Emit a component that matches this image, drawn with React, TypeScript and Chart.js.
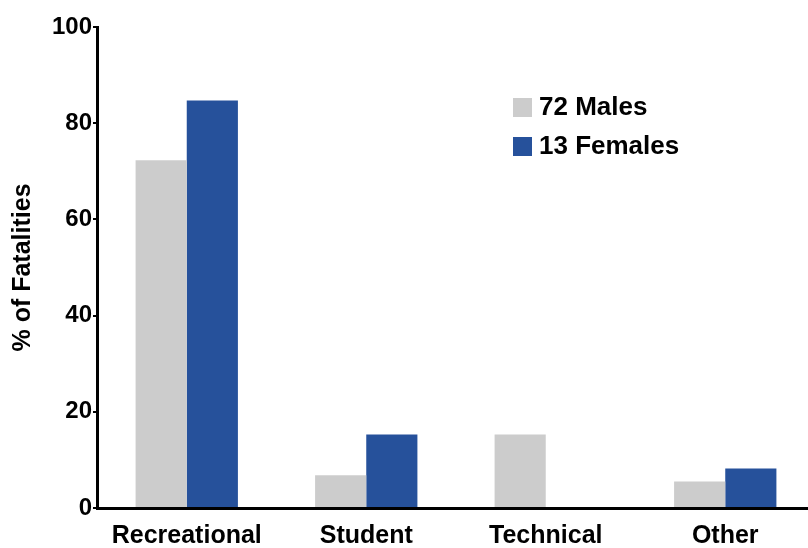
import React, { useEffect, useRef } from "react";
import { Chart, registerables } from "chart.js";

Chart.register(...registerables);

const categories = ["Recreational", "Student", "Technical", "Other"];
const maleValues = [72.3, 6.8, 15.3, 5.5];
const femaleValues = [84.7, 15.3, 0, 8.2];
const seriesLabels = ["72 Males", "13 Females"];
const yTicks = [0, 20, 40, 60, 80, 100];
const yTitle = "% of Fatalities";

const FONT = "'Liberation Sans', Arial, Helvetica, sans-serif";
const GRAY = "#cccccc";
const BLUE = "#26519b";

const legendPlugin = {
  id: "insideLegend",
  afterDraw(chart: any) {
    const ctx = chart.ctx;
    ctx.save();
    ctx.font = `bold 26px ${FONT}`;
    ctx.textBaseline = "middle";
    ctx.textAlign = "left";
    chart.data.datasets.forEach((ds: any, i: number) => {
      const y = 98 + i * 39;
      ctx.fillStyle = ds.backgroundColor;
      ctx.fillRect(513, y, 19, 19);
      ctx.fillStyle = "#000";
      ctx.fillText(ds.label, 539, y + 10);
    });
    ctx.restore();
  },
};

export default function App() {
  const ref = useRef<HTMLCanvasElement>(null);
  useEffect(() => {
    if (!ref.current) return;
    const chart = new Chart(ref.current, {
      type: "bar",
      data: {
        labels: categories,
        datasets: [
          { label: seriesLabels[0], data: maleValues, backgroundColor: GRAY, borderWidth: 0 },
          { label: seriesLabels[1], data: femaleValues, backgroundColor: BLUE, borderWidth: 0 },
        ],
      },
      options: {
        animation: false,
        responsive: false,
        devicePixelRatio: 1,
        layout: { padding: { top: 27, right: 15, left: 0, bottom: 0 } },
        datasets: { bar: { categoryPercentage: 0.57, barPercentage: 1.0 } },
        plugins: { legend: { display: false }, tooltip: { enabled: false } },
        scales: {
          x: {
            afterFit: (s: any) => { s.height = 40; },
            grid: { display: false, drawTicks: false },
            border: { display: true, color: "#000", width: 3 },
            ticks: { color: "#000", font: { family: FONT, size: 25, weight: "bold" }, padding: 13, maxRotation: 0, autoSkip: false },
          },
          y: {
            min: 0,
            max: 100,
            afterFit: (s: any) => { s.width = 97; },
            afterBuildTicks: (s: any) => { s.ticks = yTicks.map((v) => ({ value: v })); },
            grid: { drawOnChartArea: false, drawTicks: true, tickLength: 4, color: "#000", lineWidth: 2 },
            border: { display: true, color: "#000", width: 3 },
            ticks: { color: "#000", font: { family: FONT, size: 24, weight: "bold" }, padding: 1 },
            title: {
              display: true,
              text: yTitle,
              color: "#000",
              font: { family: FONT, size: 25, weight: "bold" },
              padding: { top: 8, bottom: 0 },
            },
          },
        },
      },
      plugins: [legendPlugin],
    });
    return () => chart.destroy();
  }, []);
  return (
    <div style={{ position: "fixed", left: 0, top: 0, width: 808, height: 548, overflow: "hidden", background: "#fff" }}>
      <canvas ref={ref} width={830} height={548} style={{ width: 830, height: 548, display: "block" }} />
    </div>
  );
}
